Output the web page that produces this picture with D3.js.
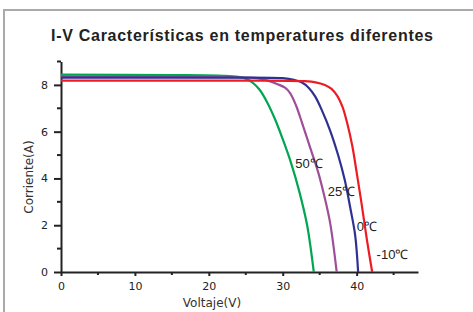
<!DOCTYPE html>
<html>
<head>
<meta charset="utf-8">
<script src="https://cdn.jsdelivr.net/npm/d3@7"></script>
<style>
  body { margin: 0; background: #fff; }
  svg { display: block; }
  .tick text { font-family: "DejaVu Sans", sans-serif; font-size: 11px; fill: #222; }
  .axis path, .axis line { stroke: #222; }
  text.label { font-family: "DejaVu Sans", sans-serif; font-size: 12px; fill: #333; }
  text.title { font-family: "Liberation Sans", Arial, sans-serif; font-size: 16px; font-weight: bold; fill: #222; }
  text.temp { font-family: "Liberation Sans", Arial, sans-serif; font-size: 13px; fill: #222; }
</style>
</head>
<body>
<svg id="chart"></svg>
<script>
// curves: voltage (V) / current (A)
const green50V = [0, 15, 22, 24, 25.2, 26.1, 26.9, 27.9, 29.0, 30.0, 31.1, 32.2, 33.3, 34.2];
const green50I = [8.44, 8.42, 8.39, 8.34, 8.24, 8.05, 7.78, 7.25, 6.5, 5.68, 4.69, 3.49, 2.0, 0];
const purple25V = [0, 20, 26.5, 28.0, 29.3, 30.3, 31.0, 31.8, 32.6, 33.7, 34.8, 35.6, 36.4, 37.3];
const purple25I = [8.36, 8.33, 8.29, 8.18, 8.03, 7.88, 7.65, 7.12, 6.39, 5.33, 4.26, 3.28, 2.12, 0];
const blue0V = [0, 20, 30.0, 31.5, 32.6, 33.5, 34.4, 35.3, 36.4, 37.5, 38.4, 39.2, 39.8, 40.2];
const blue0I = [8.31, 8.31, 8.29, 8.22, 8.1, 7.88, 7.5, 6.91, 6.06, 4.99, 3.92, 2.64, 1.57, 0];
const redM10V = [0, 20, 33.0, 34.6, 35.7, 36.6, 37.4, 38.1, 38.7, 39.4, 40.0, 40.7, 41.4, 42.1];
const redM10I = [8.18, 8.18, 8.16, 8.1, 8.0, 7.83, 7.52, 7.05, 6.39, 5.41, 4.26, 2.85, 1.35, 0];

const seriesNames = ["50℃", "25℃", "0℃", "-10℃"];
const seriesColors = ["#00a651", "#9e4f98", "#2e3192", "#ed1c24"];
const labelV = [31.7, 36.1, 40.0, 42.7];
const labelI = [4.43, 3.25, 1.74, 0.54];

const xTicks = [0, 10, 20, 30, 40];
const xMinor = [5, 15, 25, 35, 45];
const yTicks = [0, 2, 4, 6, 8];
const yMinor = [1, 3, 5, 7, 9];

const W = 473, H = 312;
const svg = d3.select("#chart").attr("width", W).attr("height", H);

// frame
svg.append("path")
  .attr("d", `M4,${H} V10 H${W}`)
  .attr("fill", "none")
  .attr("stroke", "#aaa")
  .attr("stroke-width", 2);

const x = d3.scaleLinear().domain([0, 48.3]).range([61, 418]);
const y = d3.scaleLinear().domain([0, 9]).range([272, 61.5]);

// minor ticks
svg.append("g").selectAll("line").data(yMinor).join("line")
  .attr("x1", x(0) - 4).attr("x2", x(0))
  .attr("y1", (d) => y(d)).attr("y2", (d) => y(d))
  .attr("stroke", "#222").attr("stroke-width", 2);
svg.append("g").selectAll("line").data(xMinor).join("line")
  .attr("x1", (d) => x(d)).attr("x2", (d) => x(d))
  .attr("y1", y(0)).attr("y2", y(0) + 3)
  .attr("stroke", "#222").attr("stroke-width", 2);

const xAxis = svg.append("g")
  .attr("class", "axis")
  .attr("transform", `translate(0, ${y(0)})`)
  .call(d3.axisBottom(x).tickValues(xTicks).tickSize(4).tickSizeOuter(0).tickPadding(6));
xAxis.selectAll("path, line").attr("stroke-width", 2);

const yAxis = svg.append("g")
  .attr("class", "axis")
  .attr("transform", `translate(${x(0)}, 0)`)
  .call(d3.axisLeft(y).tickValues(yTicks).tickSize(7).tickSizeOuter(0).tickPadding(6));
yAxis.selectAll("path, line").attr("stroke-width", 2);

// curves
const curves = [
  [green50V, green50I],
  [purple25V, purple25I],
  [blue0V, blue0I],
  [redM10V, redM10I],
].map(([vs, is]) => vs.map((v, i) => [v, is[i]]));

const line = d3.line()
  .x((d) => x(d[0]))
  .y((d) => y(d[1]))
  .curve(d3.curveCatmullRom.alpha(0.5));

svg.append("g").selectAll("path").data(curves).join("path")
  .attr("d", line)
  .attr("fill", "none")
  .attr("stroke", (d, i) => seriesColors[i])
  .attr("stroke-width", 2.2);

svg.append("g").selectAll("text").data(seriesNames).join("text")
  .attr("class", "temp")
  .attr("x", (d, i) => x(labelV[i]))
  .attr("y", (d, i) => y(labelI[i]))
  .text((d) => d);

svg.append("text")
  .attr("class", "title")
  .attr("x", 51)
  .attr("y", 41)
  .attr("textLength", 382)
  .attr("lengthAdjust", "spacing")
  .text("I-V Características en temperatures diferentes");

svg.append("text")
  .attr("class", "label")
  .attr("x", 212)
  .attr("y", 307)
  .attr("text-anchor", "middle")
  .text("Voltaje(V)");

svg.append("text")
  .attr("class", "label")
  .attr("transform", "translate(33, 177) rotate(-90)")
  .attr("text-anchor", "middle")
  .text("Corriente(A)");
</script>
</body>
</html>
